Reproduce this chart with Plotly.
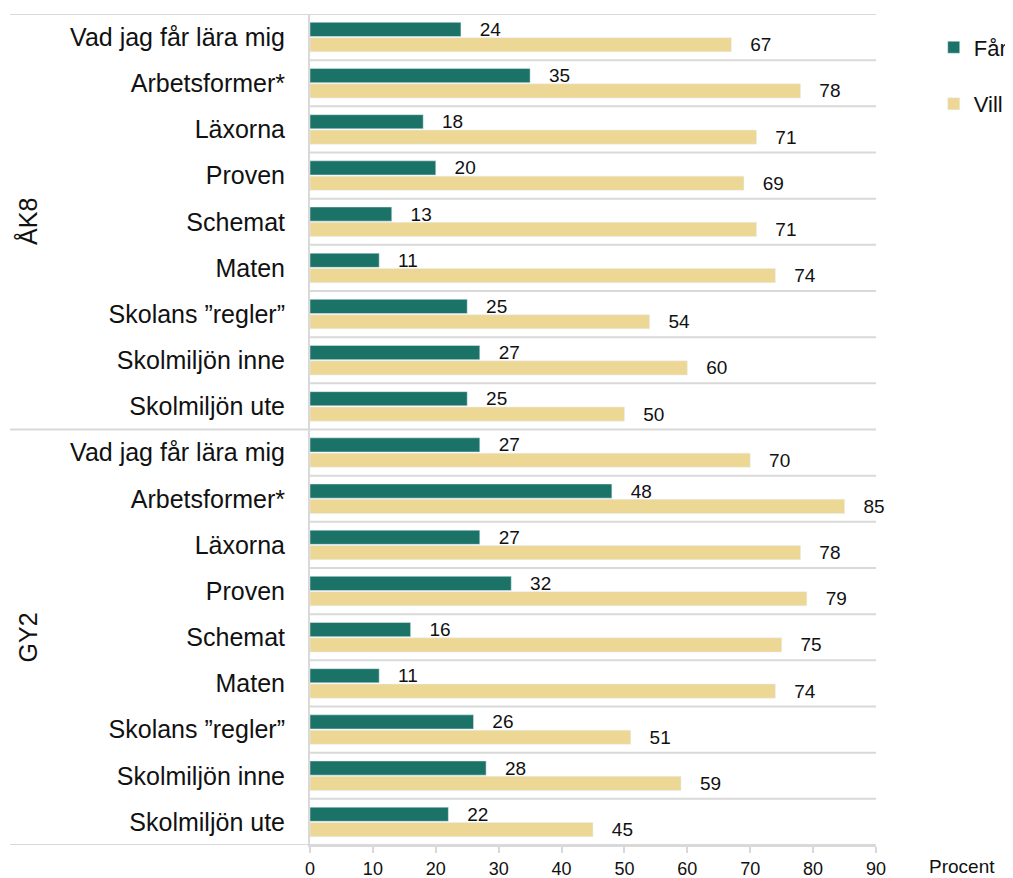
import plotly.graph_objects as go

categories = ["Vad jag får lära mig", "Arbetsformer*", "Läxorna", "Proven", "Schemat",
              "Maten", "Skolans \u201dregler\u201d", "Skolmiljön inne", "Skolmiljön ute"]
groups = ["ÅK8", "GY2"]

far_ak8 = [24, 35, 18, 20, 13, 11, 25, 27, 25]
vill_ak8 = [67, 78, 71, 69, 71, 74, 54, 60, 50]
far_gy2 = [27, 48, 27, 32, 16, 11, 26, 28, 22]
vill_gy2 = [70, 85, 78, 79, 75, 74, 51, 59, 45]

x_ticks = [0, 10, 20, 30, 40, 50, 60, 70, 80, 90]

far_color = "#1b7266"
vill_color = "#edd795"
line_color = "#d9d9d9"
font_main = "Liberation Sans, Arial"
font_narrow = "Liberation Sans Narrow, Arial Narrow, Liberation Sans"

labels = categories + categories
pos = list(range(len(labels)))
far = far_ak8 + far_gy2
vill = vill_ak8 + vill_gy2
n = len(categories)

fig = go.Figure()
for name, vals, col, grp in [("Får", far, far_color, "a"), ("Vill", vill, vill_color, "b")]:
    fig.add_trace(go.Bar(
        y=pos, x=vals, orientation="h", name=name, marker_color=col,
        texttemplate="\u00a0\u00a0\u00a0%{x}", textposition="outside",
        constraintext="none",
        textfont=dict(size=19, color="#111111", family=font_main),
        cliponaxis=False, legendgroup=grp,
    ))

shapes = []
for i in range(len(labels) - 1):
    if i == n - 1:
        continue
    shapes.append(dict(type="line", xref="x", yref="y", x0=0, x1=x_ticks[-1],
                       y0=i + 0.5, y1=i + 0.5, line=dict(color=line_color, width=2)))
for b in [-0.5, n - 0.5, 2 * n - 0.5]:
    shapes.append(dict(type="line", xref="paper", yref="y", x0=-0.53, x1=1,
                       y0=b, y1=b, line=dict(color=line_color, width=2)))

annotations = []
for g, name in enumerate(groups):
    annotations.append(dict(text=name, xref="paper", yref="y", x=-0.498, xanchor="center",
                            y=g * n + (n - 1) / 2, textangle=-90, showarrow=False,
                            font=dict(size=25, color="#111111", family=font_main)))
annotations.append(dict(text="Procent", xref="paper", yref="paper", x=1.09, y=0,
                        yshift=-21, xanchor="left", yanchor="middle", showarrow=False,
                        font=dict(size=19, color="#111111", family=font_narrow)))

# page body has an 8px margin, so the figure is 8px smaller than the window
fig.update_layout(
    width=1005, height=870,
    margin=dict(l=302, r=137, t=6, b=33, autoexpand=False),
    plot_bgcolor="white", paper_bgcolor="white",
    barmode="group", bargap=0.335, bargroupgap=0.08,
    shapes=shapes, annotations=annotations,
    legend=dict(x=1.102, y=0.985, xanchor="left", yanchor="top", traceorder="grouped",
                tracegroupgap=25, itemwidth=30,
                font=dict(size=22, color="#111111", family=font_main)),
    xaxis=dict(range=[0, x_ticks[-1]], tickvals=x_ticks, showgrid=False, zeroline=False,
               automargin=False, showline=True, linecolor=line_color, linewidth=2,
               ticks="outside", ticklen=6, tickcolor=line_color, tickwidth=2,
               tickfont=dict(size=18, color="#111111", family=font_narrow)),
    yaxis=dict(range=[len(labels) - 0.5, -0.5], tickvals=pos, ticktext=labels,
               automargin=False, showgrid=False, zeroline=False, showline=True,
               linecolor=line_color, linewidth=2, ticks="outside", ticklen=18,
               tickcolor="rgba(0,0,0,0)",
               tickfont=dict(size=25, color="#111111", family=font_main)),
)

fig.write_html("out.html")
